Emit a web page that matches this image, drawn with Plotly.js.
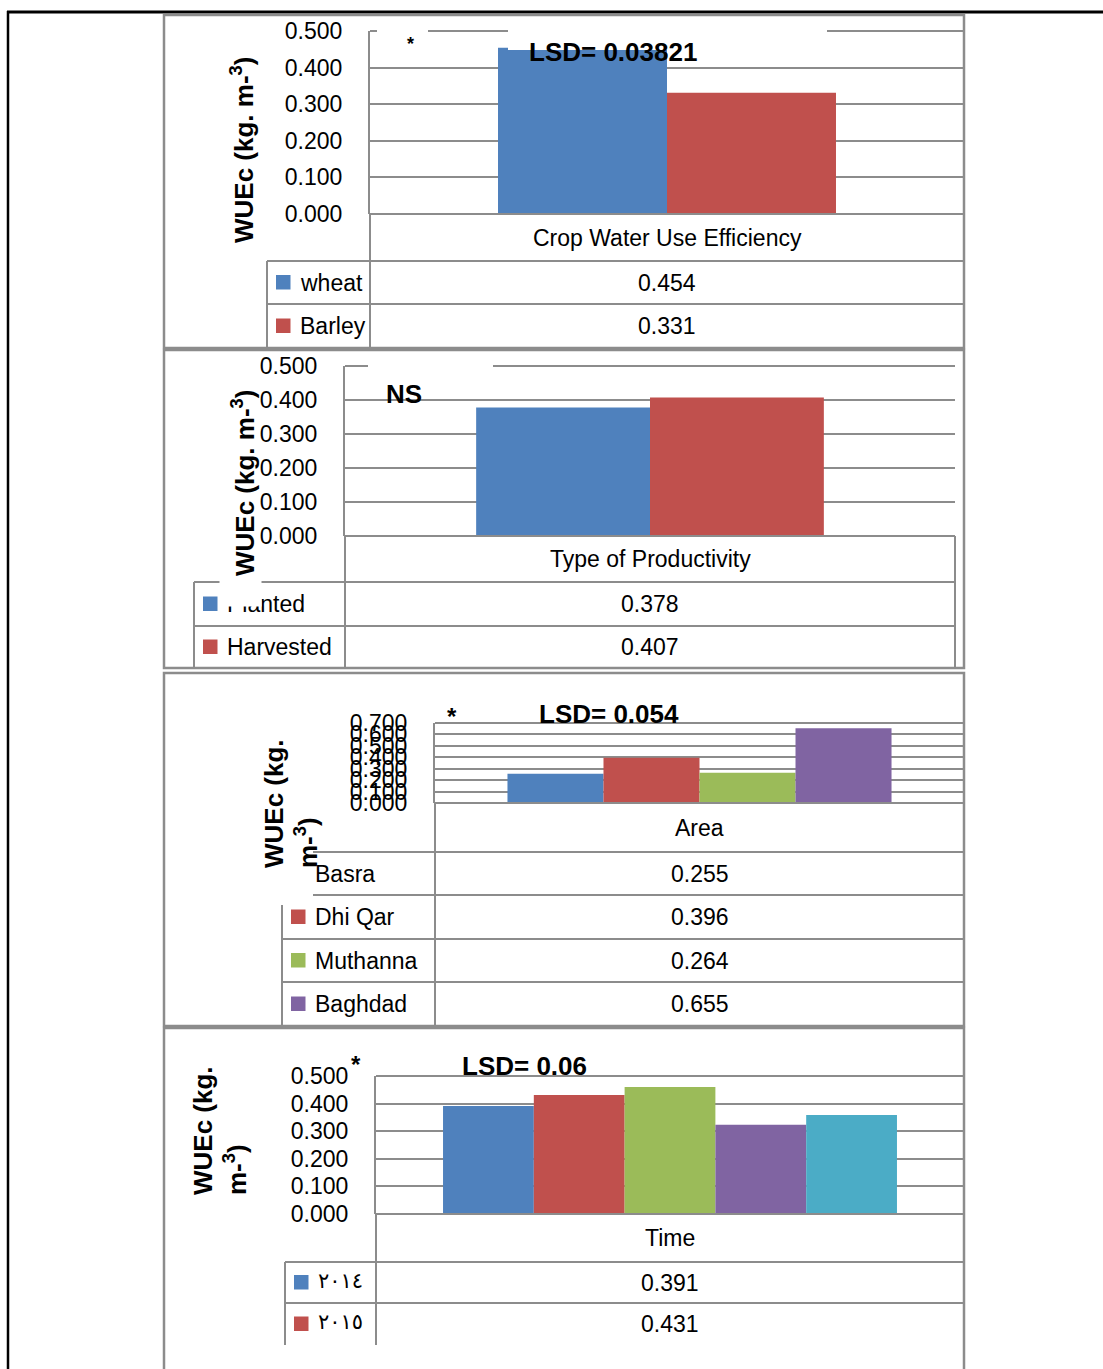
<!DOCTYPE html>
<html>
<head>
<meta charset="utf-8">
<script src="https://cdn.plot.ly/plotly-3.0.1.min.js"></script>
<style>
  html, body { margin: 0; padding: 0; background: #ffffff; }
  #chart { width: 1103px; height: 1369px; }
</style>
</head>
<body>
<div id="chart"></div>
<script>
// ---- WUEc data (kg. m-3) ----
const cropCategory = 'Crop Water Use Efficiency';
const cropNames = ['wheat', 'Barley'];
const cropValues = [0.454, 0.331];

const productivityCategory = 'Type of Productivity';
const productivityNames = ['Planted', 'Harvested'];
const productivityValues = [0.378, 0.407];

const areaCategory = 'Area';
const areaNames = ['Basra', 'Dhi Qar', 'Muthanna', 'Baghdad'];
const areaValues = [0.255, 0.396, 0.264, 0.655];

const timeCategory = 'Time';
const timeNames = ['٢٠١٤', '٢٠١٥'];
const timeValues = [0.391, 0.431, 0.460, 0.323, 0.359];

const significanceLabels = ['LSD= 0.03821', 'NS', 'LSD= 0.054', 'LSD= 0.06'];
const yMaxima = [0.5, 0.5, 0.7, 0.5];
const seriesColors = ['#4F81BD', '#C0504D', '#9BBB59', '#8064A2', '#4BACC6'];

// ---- page geometry (pixels) ----
const W = 1103, H = 1369;
const X = v => v / W;
const Y = v => 1 - v / H;

const GRID = '#8c8c8c';
const FONT = 'Liberation Sans, Arial, DejaVu Sans, sans-serif';

const charts = [
  { category: cropCategory, names: cropNames, values: cropValues,
    box: [164, 15, 964, 348], plot: [370, 31, 964, 214], group: 0.569,
    legendLeft: 267, right: 964, rows: [214, 261, 304, 348], openBottom: false,
    title: 'WUEc (kg. m-<sup>3</sup>)', titlePos: [243, 150],
    sig: [613, 52], star: [410, 44] },
  { category: productivityCategory, names: productivityNames, values: productivityValues,
    box: [164, 350, 964, 668], plot: [345, 366, 955, 536], group: 0.570,
    legendLeft: 194, right: 955, rows: [536, 582, 626, 668], openBottom: false,
    title: 'WUEc (kg. m-<sup>3</sup>)', titlePos: [243, 483],
    sig: [404, 394], star: null },
  { category: areaCategory, names: areaNames, values: areaValues,
    box: [164, 673, 964, 1026], plot: [435, 723, 964, 803], group: 0.726,
    legendLeft: 282, right: 964, rows: [803, 852, 895, 939, 982, 1026], openBottom: false,
    title: 'WUEc (kg.<br>m-<sup>3</sup>)', titlePos: [291, 804],
    sig: [609, 714], star: [452, 716] },
  { category: timeCategory, names: timeNames, values: timeValues,
    box: [164, 1028, 964, 1400], plot: [376, 1076, 964, 1214], group: 0.772,
    legendLeft: 285, right: 964, rows: [1214, 1262, 1303, 1345], openBottom: true,
    title: 'WUEc (kg.<br>m-<sup>3</sup>)', titlePos: [220, 1131],
    sig: [524, 1066], star: [356, 1064] }
];

function seg(x0, y0, x1, y1, color, width) {
  return { type: 'line', xref: 'paper', yref: 'paper', layer: 'above',
           x0: X(x0), y0: Y(y0), x1: X(x1), y1: Y(y1),
           line: { color: color, width: width } };
}
function box(x0, y0, x1, y1, fill, lineColor, lineWidth) {
  return { type: 'rect', xref: 'paper', yref: 'paper', layer: 'above',
           x0: X(x0), y0: Y(y0), x1: X(x1), y1: Y(y1),
           fillcolor: fill, line: { color: lineColor, width: lineWidth } };
}
function text(str, x, y, opts) {
  const o = opts || {};
  return Object.assign({
    text: str, xref: 'paper', yref: 'paper', x: X(x), y: Y(y),
    showarrow: false, xanchor: 'center', yanchor: 'middle',
    font: { family: FONT, size: 23, color: '#000000' }
  }, o);
}

const traces = [];
const shapes = [];
const annotations = [];
const layout = {
  width: W, height: H,
  margin: { l: 0, r: 0, t: 0, b: 0 },
  paper_bgcolor: '#ffffff', plot_bgcolor: 'rgba(0,0,0,0)',
  barmode: 'overlay',
  showlegend: false
};

// outer page frame
shapes.push(seg(7, 12, 1103, 12, '#000000', 3));
shapes.push(seg(8, 11, 8, 1369, '#000000', 2.5));

charts.forEach((c, k) => {
  const ax = k === 0 ? '' : String(k + 1);
  const [px0, py0, px1, py1] = c.plot;

  layout['xaxis' + ax] = {
    domain: [X(px0), X(px1)], anchor: 'y' + ax, type: 'category',
    range: [-0.5, 0.5], showticklabels: false, showgrid: false,
    zeroline: false, showline: false, ticks: '', fixedrange: true
  };
  layout['yaxis' + ax] = {
    domain: [Y(py1), Y(py0)], anchor: 'x' + ax,
    range: [0, yMaxima[k]], tick0: 0, dtick: 0.1, tickformat: '.3f',
    showgrid: true, gridcolor: GRID, gridwidth: 2,
    zeroline: false, showline: true, linecolor: GRID, linewidth: 2,
    ticks: '', ticklabelstandoff: 21,
    tickfont: { family: FONT, size: 23, color: '#000000' }, fixedrange: true
  };

  // one bar per series inside the single category
  const n = c.values.length;
  const w = c.group / n;
  c.values.forEach((v, i) => {
    traces.push({
      type: 'bar', x: [c.category], y: [v],
      xaxis: 'x' + ax, yaxis: 'y' + ax,
      width: [w], offset: [-c.group / 2 + i * w],
      name: c.names[i] || '',
      marker: { color: seriesColors[i], line: { width: 0 } },
      hoverinfo: 'skip'
    });
  });

  // panel outline
  const [bx0, by0, bx1, by1] = c.box;
  shapes.push(box(bx0, by0, bx1, by1, 'rgba(0,0,0,0)', GRID, 2.5));

  // top gridline of the plot area
  shapes.push(seg(px0, py0, px1, py0, GRID, 2));

  // data table below the plot
  const r = c.rows;
  const last = r[r.length - 1];
  shapes.push(seg(px0, r[0], c.right, r[0], GRID, 2));
  for (let j = 1; j < r.length; j++) {
    if (j === r.length - 1 && c.openBottom) continue;
    shapes.push(seg(c.legendLeft, r[j], c.right, r[j], GRID, 2));
  }
  shapes.push(seg(px0, r[0], px0, last, GRID, 2));
  shapes.push(seg(c.right, r[0], c.right, last, GRID, 2));
  shapes.push(seg(c.legendLeft, r[1], c.legendLeft, last, GRID, 2));

  const midData = (px0 + c.right) / 2;
  annotations.push(text(c.category, midData, (r[0] + r[1]) / 2));
  c.names.forEach((name, i) => {
    const rowMid = (r[i + 1] + r[i + 2]) / 2;
    const sq0 = c.legendLeft + 9;
    shapes.push(box(sq0, rowMid - 7.5, sq0 + 14.5, rowMid + 7, seriesColors[i], seriesColors[i], 0));
    const isArabic = /[\u0660-\u0669]/.test(name);
    annotations.push(text(name, sq0 + 22, rowMid + (isArabic ? -2 : 0), {
      xanchor: 'left',
      font: isArabic ? { family: 'DejaVu Sans, sans-serif', size: 21, color: '#000000' }
                     : { family: FONT, size: 23, color: '#000000' }
    }));
    annotations.push(text(c.values[i].toFixed(3), midData, rowMid));
  });

  // significance marks
  annotations.push(text(significanceLabels[k], c.sig[0], c.sig[1], {
    font: { family: FONT, size: 26, color: '#000000', weight: 700 }
  }));
  if (c.star) {
    annotations.push(text('*', c.star[0], c.star[1], {
      font: { family: FONT, size: k === 0 ? 18 : 24, color: '#000000', weight: 700 }
    }));
  }
});

// text boxes laid over the charts hide parts of the frame lines
shapes.push(box(377, 24, 428, 37, '#ffffff', '#ffffff', 0));
shapes.push(box(508, 24, 827, 50, '#ffffff', '#ffffff', 0));
shapes.push(box(368, 359, 493, 372, '#ffffff', '#ffffff', 0));
shapes.push(box(255, 726, 313, 905, '#ffffff', '#ffffff', 0));
annotations.push(text(' ', 240.5, 589, {
  width: 41, height: 34, bgcolor: '#ffffff', borderpad: 0
}));

// rotated y-axis titles
charts.forEach(c => {
  annotations.push(text(c.title, c.titlePos[0], c.titlePos[1], {
    textangle: -90, align: 'left',
    font: { family: FONT, size: 26, color: '#000000', weight: 700 }
  }));
});

layout.shapes = shapes;
layout.annotations = annotations;

Plotly.newPlot('chart', traces, layout, { staticPlot: true, displayModeBar: false });
</script>
</body>
</html>
